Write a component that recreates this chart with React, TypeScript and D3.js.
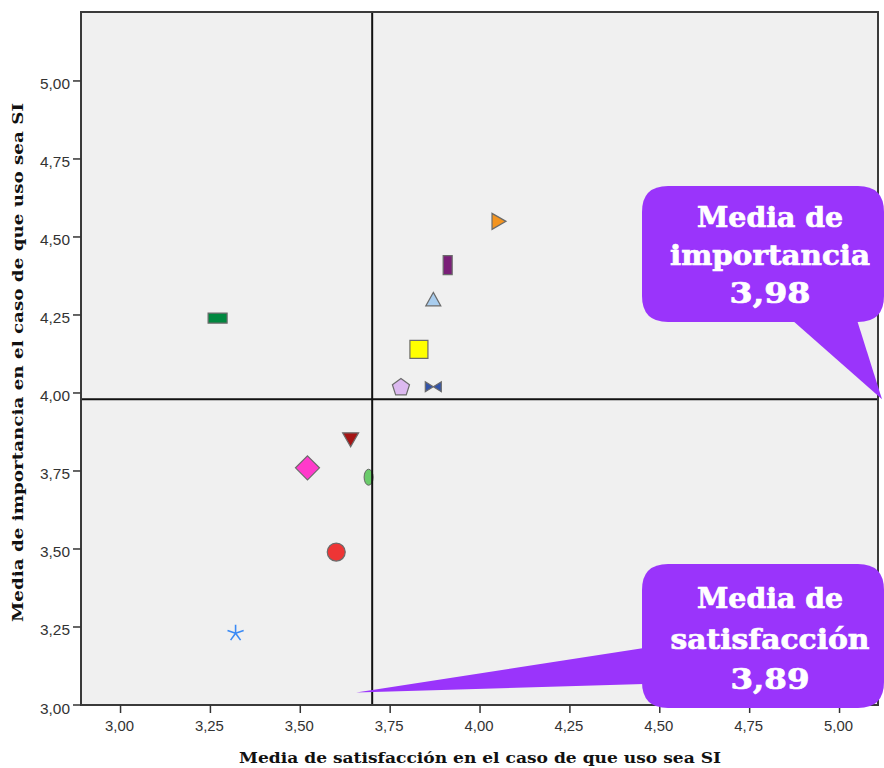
import React from "react";
import * as d3 from "d3";

// ---- data ----
const satisfaction = [4.05, 3.91, 3.87, 3.27, 3.83, 3.78, 3.87, 3.64, 3.52, 3.69, 3.6, 3.32];
const importance = [4.55, 4.41, 4.3, 4.24, 4.14, 4.02, 4.02, 3.85, 3.76, 3.73, 3.49, 3.23];
const xTicks = [3.0, 3.25, 3.5, 3.75, 4.0, 4.25, 4.5, 4.75, 5.0];
const yTicks = [3.0, 3.25, 3.5, 3.75, 4.0, 4.25, 4.5, 4.75, 5.0];
const refSatisfaction = 3.7;
const refImportance = 3.98;
const calloutImportance = ["Media de", "importancia", "3,98"];
const calloutSatisfaction = ["Media de", "satisfacción", "3,89"];
const xTitle = "Media de satisfacción en el caso de que uso sea SI";
const yTitle = "Media de importancia en el caso de que uso sea SI";

// ---- marker styles (one per point, same order) ----
const markerShapes = [
  "triRight", "tallRect", "triUp", "wideRect", "square", "pentagon",
  "bowtie", "triDown", "diamond", "ellipse", "circle", "star",
];
const markerColors = [
  "#f39420", "#7a1f78", "#a9cdee", "#00873f", "#ffff00", "#dcb9f0",
  "#3354a8", "#a51515", "#ff3acb", "#6acb6a", "#ee3535", "#3a8af5",
];
const callout1Widths = [146, 200, 81];
const callout2Widths = [146, 199, 79];

const W = 884;
const H = 768;
const L = 81, R = 878, T = 12, B = 705;

const x = d3.scaleLinear().domain([2.89, 5.107]).range([L, R]);
const y = d3.scaleLinear().domain([3.0, 5.221]).range([B, T]);

const loc = d3.formatLocale({ decimal: ",", thousands: ".", grouping: [3], currency: ["", "€"] });
const fmt = loc.format(".2f");

function shapePath(s: string): string {
  switch (s) {
    case "triRight": return "M-6,-8L8,0L-6,8Z";
    case "tallRect": return "M-4.5,-9.5H4.5V9.5H-4.5Z";
    case "triUp": return "M0,-7L7.5,6.5L-7.5,6.5Z";
    case "wideRect": return "M-9.5,-5H9.5V5H-9.5Z";
    case "square": return "M-9,-9H9V9H-9Z";
    case "pentagon": {
      const pts = d3.range(5).map((i) => {
        const a = -Math.PI / 2 + (i * 2 * Math.PI) / 5;
        return [9 * Math.cos(a), 9 * Math.sin(a) + 0.8];
      });
      return "M" + pts.map((p) => p.join(",")).join("L") + "Z";
    }
    case "bowtie": return "M-8,-5L8,5L8,-5L-8,5Z";
    case "triDown": return "M-8,-7L8,-7L0,7Z";
    case "diamond": return "M0,-12L12,0L0,12L-12,0Z";
    case "circle": return d3.arc()({ innerRadius: 0, outerRadius: 9, startAngle: 0, endAngle: 2 * Math.PI }) as string;
    default: return "";
  }
}

function Marker({ shape, color, cx, cy }: { shape: string; color: string; cx: number; cy: number }) {
  if (shape === "ellipse") {
    return <ellipse cx={cx} cy={cy} rx={4.5} ry={8} fill={color} stroke="#666" strokeWidth={1} />;
  }
  if (shape === "star") {
    const arms = d3.range(5).map((i) => -Math.PI / 2 + (i * 2 * Math.PI) / 5);
    return (
      <g transform={`translate(${cx},${cy})`}>
        {arms.map((a, i) => (
          <line key={i} x1={0} y1={0} x2={8.5 * Math.cos(a)} y2={8.5 * Math.sin(a)} stroke={color} strokeWidth={1.6} />
        ))}
      </g>
    );
  }
  return (
    <path d={shapePath(shape)} transform={`translate(${cx},${cy})`} fill={color} stroke="#6b6b6b" strokeWidth={1.2} />
  );
}

function roundedBox(l: number, t: number, r: number, b: number, rad: number) {
  return `M${l + rad},${t}H${r - rad}Q${r},${t} ${r},${t + rad}V${b - rad}Q${r},${b} ${r - rad},${b}H${l + rad}Q${l},${b} ${l},${b - rad}V${t + rad}Q${l},${t} ${l + rad},${t}Z`;
}

export default function App() {
  const purple = "#9a34fb";
  const calloutFont = {
    fontFamily: "'DejaVu Serif', serif",
    fontWeight: 700,
    fontSize: 28,
    stroke: "#fff",
    strokeWidth: 0.7,
    lengthAdjust: "spacingAndGlyphs",
  } as const;

  const tip1: [number, number] = [R + 4, y(refImportance)];
  const box1 = { l: 642, t: 186, r: 884, b: 322 };
  const tip2: [number, number] = [x(refSatisfaction) - 16, y(3.04)];
  const box2 = { l: 642, t: 564, r: 884, b: 708 };

  return (
    <svg width={W} height={H} style={{ position: "absolute", left: 0, top: 0, background: "#fff" }}>
      <rect x={L} y={T} width={R - L} height={B - T} fill="#f0f0f0" />

      {satisfaction.map((s, i) => (
        <Marker key={i} shape={markerShapes[i]} color={markerColors[i]} cx={x(s)} cy={y(importance[i])} />
      ))}

      <line x1={x(refSatisfaction)} x2={x(refSatisfaction)} y1={T} y2={B} stroke="#111" strokeWidth={2} />
      <line x1={L} x2={R} y1={y(refImportance)} y2={y(refImportance)} stroke="#111" strokeWidth={2} />

      <rect x={L} y={T} width={R - L} height={B - T} fill="none" stroke="#3a3a3a" strokeWidth={2} />

      {yTicks.map((t) => (
        <g key={"y" + t}>
          <line x1={L - 8} x2={L} y1={y(t)} y2={y(t)} stroke="#333" strokeWidth={1.5} />
          <text x={L - 11} y={y(t) + 8.5} textAnchor="end" fontFamily="'Liberation Sans', Arial, sans-serif" fontSize={15.5} fill="#333" textLength={30} lengthAdjust="spacingAndGlyphs">
            {fmt(t)}
          </text>
        </g>
      ))}

      {xTicks.map((t) => (
        <g key={"x" + t}>
          <line x1={x(t)} x2={x(t)} y1={B} y2={B + 8} stroke="#333" strokeWidth={1.5} />
          <text x={x(t) - 1} y={731} textAnchor="middle" fontFamily="'Liberation Sans', Arial, sans-serif" fontSize={15.5} fill="#333" textLength={29} lengthAdjust="spacingAndGlyphs">
            {fmt(t)}
          </text>
        </g>
      ))}

      <text x={239} y={763} fontFamily="'DejaVu Serif', serif" fontWeight={700} fontSize={14.5} fill="#111" textLength={482} lengthAdjust="spacingAndGlyphs">
        {xTitle}
      </text>
      <text transform={`translate(23,622) rotate(-90)`} fontFamily="'DejaVu Serif', serif" fontWeight={700} fontSize={14.5} fill="#111" textLength={519} lengthAdjust="spacingAndGlyphs">
        {yTitle}
      </text>

      <path d={roundedBox(box1.l, box1.t, box1.r, box1.b, 26)} fill={purple} />
      <path d={`M792,${box1.b - 2}L857,${box1.b - 2}L${tip1[0]},${tip1[1]}Z`} fill={purple} />
      {calloutImportance.map((s, i) => (
        <text key={i} x={770} y={227 + i * 38} textAnchor="middle" fill="#fff" textLength={callout1Widths[i]} {...calloutFont}>
          {s}
        </text>
      ))}

      <path d={roundedBox(box2.l, box2.t, box2.r, box2.b, 26)} fill={purple} />
      <path d={`M${box2.l + 2},648L${box2.l + 2},684L${tip2[0]},${tip2[1]}Z`} fill={purple} />
      {calloutSatisfaction.map((s, i) => (
        <text key={i} x={770} y={608 + i * 40.5} textAnchor="middle" fill="#fff" textLength={callout2Widths[i]} {...calloutFont}>
          {s}
        </text>
      ))}
    </svg>
  );
}
